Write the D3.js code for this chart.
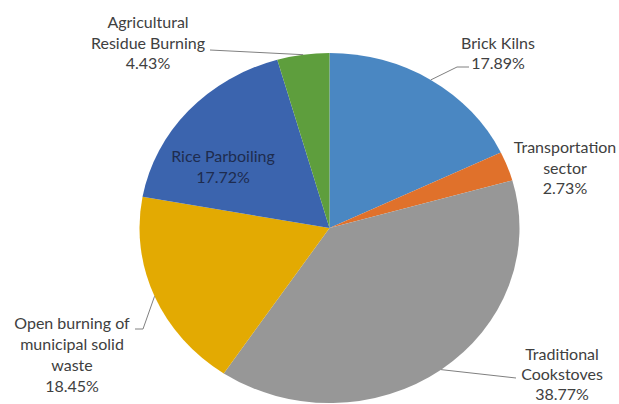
<!DOCTYPE html>
<html>
<head>
<meta charset="utf-8">
<script src="https://cdn.jsdelivr.net/npm/d3@7"></script>
<style>
  html, body { margin: 0; padding: 0; background: #fff; }
  svg { display: block; }
  text { font-family: Lato, "Open Sans", sans-serif; font-size: 16px; fill: #404040; }
</style>
</head>
<body>
<svg id="chart" width="619" height="404"></svg>
<script>
// Emission share by source (%), clockwise from 12 o'clock
const categories = [
  "Brick Kilns",
  "Transportation sector",
  "Traditional Cookstoves",
  "Open burning of municipal solid waste",
  "Rice Parboiling",
  "Agricultural Residue Burning"
];
const shares = [17.89, 2.73, 38.77, 18.45, 17.72, 4.43];
const sliceColors = ["#4a87c2", "#e0712b", "#979797", "#e3aa02", "#3b64ae", "#5e9e3d"];

// Label placement: wrapped lines, text-block centre, line centres, leader bends
const labelLayout = {
  "Brick Kilns": { lines: ["Brick Kilns"], x: 498, ys: [43, 63], leader: [[457, 67], [469, 67]] },
  "Transportation sector": { lines: ["Transportation", "sector"], x: 565, ys: [147, 168, 188], leader: null },
  "Traditional Cookstoves": { lines: ["Traditional", "Cookstoves"], x: 562, ys: [354, 374.5, 394.5], leader: [[516, 378]] },
  "Open burning of municipal solid waste": { lines: ["Open burning of", "municipal solid", "waste"], x: 72, ys: [323, 344, 365, 386], leader: [[143, 329], [135, 329]] },
  "Rice Parboiling": { lines: ["Rice Parboiling"], x: 223, ys: [156, 177], leader: null, inside: true },
  "Agricultural Residue Burning": { lines: ["Agricultural", "Residue Burning"], x: 148, ys: [22, 43, 63], leader: [[210, 50]] }
};

const cx = 329.5, cy = 228, rx = 190, ry = 175;

const svg = d3.select("#chart");
const data = categories.map((c, i) => ({ category: c, value: shares[i] }));

const color = d3.scaleOrdinal().domain(categories).range(sliceColors);
const pie = d3.pie().value(d => d.value).sort(null);
const arcs = pie(data);
const arc = d3.arc().innerRadius(0).outerRadius(ry);

// Pie drawn as a circle and stretched horizontally into an ellipse
const pieG = svg.append("g")
  .attr("transform", `translate(${cx},${cy}) scale(${rx / ry},1)`);

pieG.selectAll("path")
  .data(arcs)
  .join("path")
  .attr("d", arc)
  .attr("fill", d => color(d.data.category));

// Point on the ellipse rim at a slice's mid angle
function rimPoint(d) {
  const a = (d.startAngle + d.endAngle) / 2;
  return [cx + rx * Math.sin(a), cy - ry * Math.cos(a)];
}

const line = d3.line();
arcs.forEach(d => {
  const lay = labelLayout[d.data.category];
  if (lay.leader) {
    svg.append("path")
      .attr("d", line([rimPoint(d), ...lay.leader]))
      .attr("fill", "none")
      .attr("stroke", "#808080")
      .attr("stroke-width", 1);
  }
  const texts = [...lay.lines, d3.format(".2f")(d.data.value) + "%"];
  const t = svg.append("text").attr("text-anchor", "middle");
  if (lay.inside) t.style("fill", "#1e2c4f");
  texts.forEach((s, i) => {
    t.append("tspan")
      .attr("x", lay.x)
      .attr("y", lay.ys[i])
      .attr("dy", "0.35em")
      .text(s);
  });
});
</script>
</body>
</html>
